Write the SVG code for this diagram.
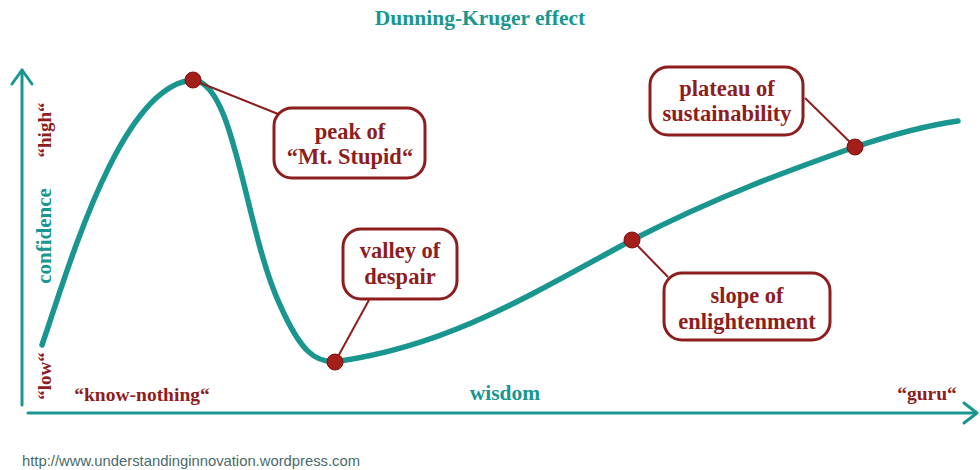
<svg xmlns="http://www.w3.org/2000/svg" width="980" height="470" viewBox="0 0 980 470">
<style>
.lbl{font-family:"Liberation Serif","DejaVu Serif",serif;font-weight:bold;fill:#8e1d1d;text-anchor:middle}
.box{fill:#fff;stroke:#8e1d1d;stroke-width:3}
.lead{stroke:#8e1d1d;stroke-width:2;fill:none}
.dot{fill:#a51f1a;stroke:#7e1010;stroke-width:1}
.axis{stroke:#1a9690;stroke-width:3;fill:none;stroke-linecap:round;stroke-linejoin:round}
.ttl{font-family:"Liberation Serif","DejaVu Serif",serif;font-weight:bold;fill:#1a9690;text-anchor:middle}
</style>
<rect width="980" height="470" fill="#fff"/>
<text class="ttl" x="480" y="25" font-size="21.5">Dunning-Kruger effect</text>
<g id="axes">
<path class="axis" d="M22 405 L22 70"/>
<path class="axis" d="M12 84 L22 70 L32 84"/>
<path class="axis" d="M28 413 L975 413"/>
<path class="axis" d="M964 403 L977 413 L964 423"/>
</g>
<g id="curve">
<path d="M42 345 C68 270 120 85 193 80 C235 82 245 230 280 305 C300 350 315 365 340 361 C450 345 530 295 632 240 C720 195 790 170 855 147 C900 132 930 125 958 121" fill="none" stroke="#1a9690" stroke-width="5.5" stroke-linecap="round"/>
</g>
<g id="connectors">
<path class="lead" d="M193 80 L278 114"/>
<path class="lead" d="M335 362 L369 300"/>
<path class="lead" d="M632 240 L668 277"/>
<path class="lead" d="M855 147 L805 98"/>
</g>
<g id="peak">
<rect class="box" x="274" y="108" width="151" height="70" rx="18"/>
<text class="lbl" x="350" y="139" font-size="22.5">peak of</text>
<text class="lbl" x="350" y="164" font-size="22.5">“Mt. Stupid“</text>
<circle class="dot" cx="193" cy="80" r="8"/>
</g>
<g id="valley">
<rect class="box" x="343" y="229" width="114" height="70" rx="18"/>
<text class="lbl" x="400" y="258" font-size="22.5">valley of</text>
<text class="lbl" x="400" y="284" font-size="22.5">despair</text>
<circle class="dot" cx="335" cy="362" r="8"/>
</g>
<g id="slope">
<rect class="box" x="664" y="273" width="166" height="67" rx="18"/>
<text class="lbl" x="747" y="303" font-size="22.5">slope of</text>
<text class="lbl" x="747" y="329" font-size="22.5">enlightenment</text>
<circle class="dot" cx="632" cy="240" r="8"/>
</g>
<g id="plateau">
<rect class="box" x="650" y="67" width="153" height="68" rx="18"/>
<text class="lbl" x="727" y="96" font-size="22.5">plateau of</text>
<text class="lbl" x="727" y="121" font-size="22.5">sustainability</text>
<circle class="dot" cx="855" cy="147" r="8"/>
</g>
<g id="labels">
<text class="lbl" x="142" y="401" font-size="19.5">“know-nothing“</text>
<text class="ttl" x="505" y="400" font-size="21.5">wisdom</text>
<text class="lbl" x="927" y="400" font-size="19.5">“guru“</text>
<text class="ttl" transform="translate(51 236) rotate(-90)" font-size="21">confidence</text>
<text class="lbl" transform="translate(51 130) rotate(-90)" font-size="19">“high“</text>
<text class="lbl" transform="translate(51 376) rotate(-90)" font-size="19">“low“</text>
<text x="22" y="466" font-family="Liberation Sans,Arial,sans-serif" font-size="14.8" fill="#4a6a6a">http://www.understandinginnovation.wordpress.com</text>
</g>
</svg>
